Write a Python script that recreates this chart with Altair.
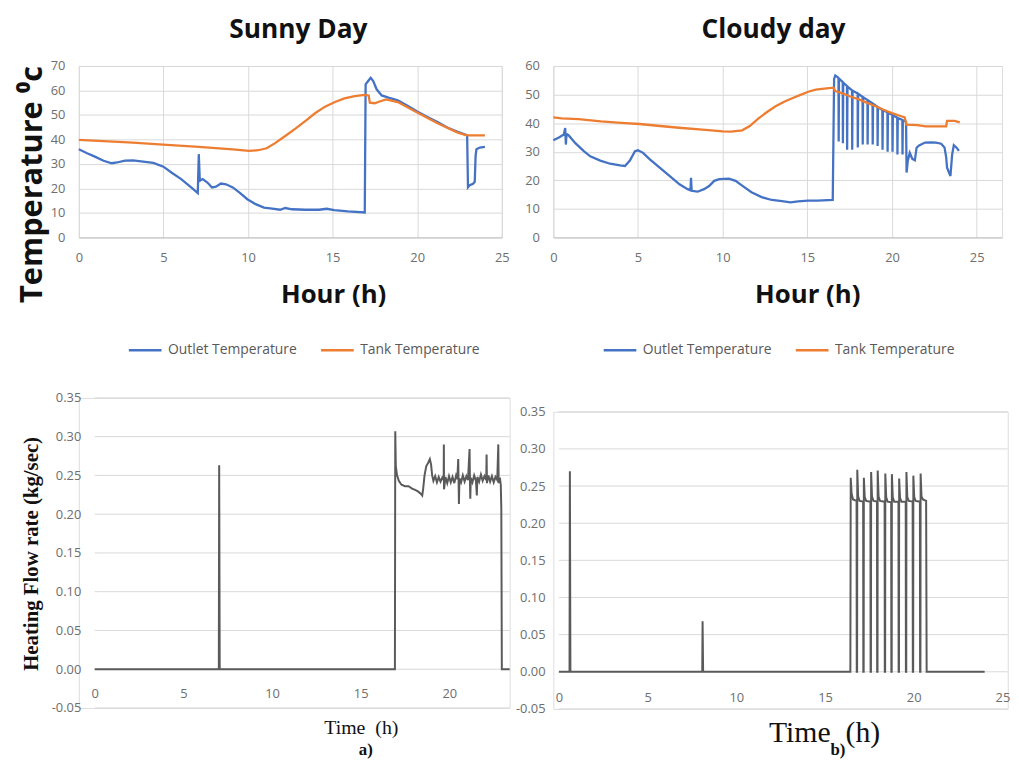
import altair as alt
import pandas as pd

# ---------------- data ----------------
series_names = ["Outlet Temperature", "Tank Temperature"]
series_colors = ["#4472C4", "#ED7D31"]

hour_ticks = [0, 5, 10, 15, 20, 25]
hour_ticks_a = [0, 5, 10, 15, 20]
sunny_temp_ticks = [0, 10, 20, 30, 40, 50, 60, 70]
cloudy_temp_ticks = [0, 10, 20, 30, 40, 50, 60]
flow_ticks = [-0.05, 0.0, 0.05, 0.10, 0.15, 0.20, 0.25, 0.30, 0.35]

# Sunny day - outlet temperature
sunny_outlet_hour = [0.0, 0.49, 0.98, 1.46, 1.95, 2.25, 2.73, 3.2, 3.8, 4.4, 5.0, 5.47, 6.05, 6.64,
                     7.03, 7.09, 7.15, 7.32, 7.6, 7.87, 8.1, 8.4, 8.7, 9.1, 9.5, 9.96, 10.45, 10.94,
                     11.43, 11.9, 12.2, 12.6, 13.4, 14.2, 14.65, 15.1, 15.9, 16.9, 16.95, 17.1, 17.25,
                     17.4, 17.6, 17.9, 18.3, 18.85, 19.4, 20.0, 20.6, 21.2, 21.8, 22.4, 22.95, 23.0,
                     23.1, 23.3, 23.4, 23.45, 23.5, 23.7, 24.0]
sunny_outlet_temp = [36.0, 34.4, 32.9, 31.3, 30.3, 30.6, 31.4, 31.5, 31.0, 30.4, 28.9, 26.5, 23.8, 20.4,
                     18.1, 34.0, 23.1, 23.8, 22.4, 20.4, 20.7, 22.0, 21.7, 20.4, 18.3, 15.6, 13.6, 12.2,
                     11.8, 11.3, 12.0, 11.5, 11.3, 11.3, 11.7, 11.1, 10.6, 10.2, 62.5, 63.9, 65.2,
                     63.9, 60.5, 58.0, 57.1, 56.0, 53.9, 51.4, 49.2, 47.1, 44.8, 43.1, 41.7, 20.5,
                     21.3, 21.9, 22.7, 33.3, 36.0, 36.7, 37.0]

# Sunny day - tank temperature
sunny_tank_hour = [0.0, 3.2, 5.2, 7.1, 9.1, 10.06, 10.6, 11.1, 11.6, 12.2, 12.8, 13.4, 13.96, 14.55,
                   15.14, 15.7, 16.3, 16.9, 17.13, 17.2, 17.48, 17.87, 18.16, 18.85, 20.0, 21.2, 22.4,
                   22.95, 24.0]
sunny_tank_temp = [39.8, 38.7, 37.8, 37.0, 36.0, 35.3, 35.6, 36.4, 38.5, 41.4, 44.4, 47.6, 50.7, 53.4,
                   55.3, 56.8, 57.7, 58.2, 58.0, 55.0, 54.8, 55.7, 56.4, 55.3, 51.0, 46.6, 42.8,
                   41.7, 41.7]

# Cloudy day - outlet temperature
cloudy_outlet_hour = [0.0, 0.33, 0.62, 0.70, 0.74, 0.78, 0.91, 1.3, 1.8, 2.18, 2.77, 3.35, 3.94, 4.23,
                      4.52, 4.82, 5.0, 5.3, 5.7, 6.28, 6.86, 7.45, 7.93, 8.1, 8.13, 8.17, 8.52, 8.9,
                      9.2, 9.5, 9.8, 10.37, 10.76, 11.15, 11.7, 12.3, 12.9, 13.5, 14.0, 14.46, 15.05,
                      15.6, 16.5,
                      16.58, 16.65, 16.75, 16.84, 16.85, 16.87, 17.09, 17.10, 17.12, 17.34, 17.35, 17.37,
                      17.64, 17.65, 17.67, 17.97, 17.98, 18.00, 18.26, 18.27, 18.29, 18.55, 18.56, 18.58,
                      18.85, 18.86, 18.88, 19.14, 19.15, 19.17, 19.43, 19.44, 19.46, 19.73, 19.74, 19.76,
                      20.02, 20.03, 20.05, 20.31, 20.32, 20.34, 20.61, 20.62, 20.64, 20.83,
                      20.86, 20.93, 21.05, 21.2, 21.35, 21.45, 21.6, 21.95, 22.3, 22.6, 22.9, 23.1,
                      23.2, 23.25, 23.45, 23.55, 23.65, 23.8, 23.95]
cloudy_outlet_temp = [34.0, 35.0, 36.0, 38.3, 32.5, 36.2, 35.7, 33.0, 30.2, 28.4, 26.9, 25.8, 25.2, 25.0,
                      26.9, 30.2, 30.5, 29.6, 27.3, 24.4, 21.5, 18.6, 16.9, 16.5, 20.9, 16.3, 16.0, 16.9,
                      18.0, 19.8, 20.4, 20.6, 19.8, 18.1, 15.8, 14.1, 13.1, 12.7, 12.3, 12.6, 12.9,
                      12.9, 13.1,
                      55.5, 56.7, 56.3, 55.8, 33.6, 55.6, 54.4, 33.0, 54.2, 53.0, 30.7, 52.8,
                      51.5, 30.7, 51.4, 50.4, 31.5, 50.3, 49.2, 32.5, 49.1, 48.1, 32.5, 48.0,
                      46.9, 32.5, 46.8, 45.7, 32.0, 45.6, 44.6, 30.7, 44.5, 43.8, 30.0, 43.7,
                      42.9, 30.0, 42.8, 41.9, 29.0, 41.8, 41.1, 29.0, 41.0, 40.5,
                      22.7, 26.8, 29.6, 27.5, 27.0, 31.4, 32.2, 33.2, 33.3, 33.2, 32.8, 31.5,
                      28.0, 24.4, 21.5, 29.0, 32.3, 31.5, 30.3]

# Cloudy day - tank temperature
cloudy_tank_hour = [0.0, 0.5, 1.5, 2.8, 4.0, 5.1, 6.3, 7.6, 8.8, 10.0, 10.5, 11.15, 11.6, 12.1, 12.6,
                    13.1, 13.6, 14.1, 14.6, 15.05, 15.5, 16.0, 16.55, 16.65, 17.0, 17.5, 18.0, 18.5,
                    19.0, 19.5, 20.0, 20.5, 20.75, 20.85, 21.5, 22.0, 23.2, 23.25, 23.7, 24.0]
cloudy_tank_temp = [42.0, 41.7, 41.4, 40.6, 40.1, 39.7, 39.0, 38.3, 37.7, 37.1, 37.0, 37.5, 39.0, 41.6, 43.8,
                    45.8, 47.4, 48.7, 49.9, 51.0, 51.7, 52.1, 52.4, 51.2, 50.6, 49.4, 48.4, 47.2,
                    46.0, 44.7, 43.5, 42.5, 42.0, 39.5, 39.3, 38.9, 38.9, 40.8, 40.8, 40.3]

# Sunny day - heating flow rate
sunny_flow_hour = [0.0, 7.0, 7.02, 7.05, 16.93, 16.95, 16.98, 17.05, 17.15, 17.3, 17.5, 17.7, 17.9, 18.1,
                   18.25, 18.4, 18.47, 18.52, 18.6, 18.7, 18.8, 18.9, 18.97, 19.03, 19.1, 19.2, 19.3,
                   19.4, 19.5, 19.6, 19.68, 19.69, 19.7, 19.78, 19.88, 19.98, 20.08, 20.18, 20.28,
                   20.38, 20.45, 20.5, 20.52, 20.54, 20.57, 20.66, 20.76, 20.86, 20.96, 21.05, 21.14,
                   21.16, 21.18, 21.21, 21.3, 21.4, 21.5, 21.55, 21.58, 21.68, 21.78, 21.88, 21.98,
                   22.08, 22.1, 22.12, 22.2, 22.3, 22.4, 22.5, 22.6, 22.7, 22.76, 22.78, 22.85, 22.9,
                   22.93, 22.96, 23.4]
sunny_flow_rate = [0.0, 0.0, 0.263, 0.0, 0.0, 0.307, 0.262, 0.250, 0.243, 0.238, 0.236, 0.236, 0.233, 0.231,
                   0.229, 0.226, 0.224, 0.232, 0.250, 0.262, 0.266, 0.271, 0.264, 0.250, 0.243, 0.249, 0.241,
                   0.248, 0.242, 0.247, 0.244, 0.290, 0.232, 0.248, 0.240, 0.249, 0.241, 0.248, 0.240,
                   0.250, 0.245, 0.271, 0.243, 0.213, 0.246, 0.241, 0.250, 0.242, 0.249, 0.244, 0.284,
                   0.245, 0.220, 0.247, 0.241, 0.250, 0.243, 0.224, 0.248, 0.242, 0.251, 0.243, 0.249,
                   0.244, 0.277, 0.240, 0.250, 0.242, 0.249, 0.241, 0.248, 0.244, 0.290, 0.240, 0.247, 0.238,
                   0.207, 0.0, 0.0]

# Cloudy day - heating flow rate
cloudy_flow_hour = [0.0, 0.6, 0.62, 0.65, 8.08, 8.1, 8.13, 16.43,
                    16.45, 16.5, 16.58, 16.78, 16.79, 16.81,
                    16.82, 16.87, 16.95, 17.15, 17.16, 17.18,
                    17.19, 17.24, 17.32, 17.56, 17.57, 17.59,
                    17.60, 17.65, 17.73, 17.93, 17.94, 17.96,
                    17.97, 18.02, 18.10, 18.36, 18.37, 18.39,
                    18.40, 18.45, 18.53, 18.73, 18.74, 18.76,
                    18.77, 18.82, 18.90, 19.14, 19.15, 19.17,
                    19.18, 19.23, 19.31, 19.55, 19.56, 19.58,
                    19.59, 19.64, 19.72, 19.94, 19.95, 19.97,
                    19.98, 20.03, 20.11, 20.35, 20.36, 20.38,
                    20.39, 20.44, 20.52, 20.70, 20.73, 24.0]
cloudy_flow_rate = [0.0, 0.0, 0.27, 0.0, 0.0, 0.068, 0.0, 0.0,
                    0.261, 0.240, 0.232, 0.230, 0.0, 0.0,
                    0.272, 0.236, 0.230, 0.229, 0.0, 0.0,
                    0.261, 0.235, 0.230, 0.229, 0.0, 0.0,
                    0.269, 0.236, 0.230, 0.229, 0.0, 0.0,
                    0.271, 0.236, 0.230, 0.229, 0.0, 0.0,
                    0.267, 0.235, 0.229, 0.228, 0.0, 0.0,
                    0.266, 0.235, 0.229, 0.229, 0.0, 0.0,
                    0.260, 0.234, 0.229, 0.229, 0.0, 0.0,
                    0.269, 0.235, 0.230, 0.229, 0.0, 0.0,
                    0.264, 0.235, 0.230, 0.229, 0.0, 0.0,
                    0.267, 0.236, 0.232, 0.230, 0.0, 0.0]


# ---------------- helpers ----------------
def temp_frame(oh, ot, th, tt):
    a = pd.DataFrame({"hour": oh, "temp": ot, "series": series_names[0]})
    b = pd.DataFrame({"hour": th, "temp": tt, "series": series_names[1]})
    a["idx"] = range(len(a))
    b["idx"] = range(len(b))
    return pd.concat([a, b], ignore_index=True)


def flow_frame(h, v):
    d = pd.DataFrame({"hour": h, "flow": v})
    d["idx"] = range(len(d))
    return d


LABELS = dict(labelFont="Open Sans", labelFontSize=13, labelColor="#6e6e6e", ticks=False,
              gridColor="#d9d9d9", gridWidth=1)
FLOW_LABEL_EXPR = "replace(format(datum.value, '.2f'), '\u2212', '-')"
GRID_COLOR = "#d9d9d9"
FLOW_COLOR = "#5a5a5a"
TOP_TITLE = dict(font="Open Sans", fontSize=26.5, fontWeight="bold", color="#111111",
                 anchor="middle", frame="group", offset=-4, baseline="alphabetic")


def legend_spec(lx, ly):
    return alt.Legend(title=None, orient="none", legendX=lx, legendY=ly, direction="horizontal",
                      columns=2, symbolType="stroke", symbolSize=1089, symbolStrokeWidth=2.5,
                      labelFont="Open Sans", labelFontSize=14, labelColor="#595959", labelOffset=5,
                      columnPadding=18, labelLimit=300)


color_scale = alt.Scale(domain=series_names, range=series_colors)

# ---------------- top-left: sunny temperatures ----------------
tl = alt.Chart(temp_frame(sunny_outlet_hour, sunny_outlet_temp, sunny_tank_hour, sunny_tank_temp)).mark_line(
    strokeWidth=2.3).encode(
    x=alt.X("hour:Q", scale=alt.Scale(domain=[0, 25], nice=False),
            axis=alt.Axis(values=hour_ticks, labelFlush=False, labelPadding=14, title="Hour (h)",
                          titleFont="Open Sans", titleFontSize=26, titleFontWeight="bold", titleColor="#111111",
                          titleX=256.7, titleY=66, titleAlign="center", titleBaseline="alphabetic",
                          domainColor="#c6c6c6", **LABELS)),
    y=alt.Y("temp:Q", scale=alt.Scale(domain=[0, 70], nice=False),
            axis=alt.Axis(values=sunny_temp_ticks, labelPadding=14, domain=False, title="Temperature \u2070c",
                          titleFont="Open Sans", titleFontSize=31, titleFontWeight="bold", titleColor="#111111",
                          titleAngle=270, titleBaseline="bottom", titleAlign="center",
                          titleX=-30.8, titleY=119, **LABELS)),
    color=alt.Color("series:N", scale=color_scale, legend=legend_spec(49, 269)),
    order="idx:Q",
).properties(width=427, height=173, title=alt.TitleParams("Sunny Day", dx=8.2, **TOP_TITLE))

# ---------------- top-right: cloudy temperatures ----------------
tr = alt.Chart(temp_frame(cloudy_outlet_hour, cloudy_outlet_temp, cloudy_tank_hour, cloudy_tank_temp)).mark_line(
    strokeWidth=2.3).encode(
    x=alt.X("hour:Q", scale=alt.Scale(domain=[0, 26.5], nice=False),
            axis=alt.Axis(values=hour_ticks, labelFlush=False, labelPadding=14, title="Hour (h)",
                          titleFont="Open Sans", titleFontSize=26, titleFontWeight="bold", titleColor="#111111",
                          titleX=256.3, titleY=66, titleAlign="center", titleBaseline="alphabetic",
                          domainColor="#c6c6c6", **LABELS)),
    y=alt.Y("temp:Q", scale=alt.Scale(domain=[0, 60], nice=False),
            axis=alt.Axis(values=cloudy_temp_ticks, labelPadding=14, domain=False, title=None, **LABELS)),
    color=alt.Color("series:N", scale=color_scale, legend=legend_spec(49.3, 269)),
    order="idx:Q",
).properties(width=453, height=173, title=alt.TitleParams("Cloudy day", dx=-4.2, **TOP_TITLE))

# ---------------- bottom-left: sunny flow ----------------
BL_XMAX = 23.4
bl_x_axis = alt.Axis(values=hour_ticks_a, labelFlush=False, labelPadding=18, offset=-39, domain=False,
                     title="Time\u00a0 (h)", titleFont="Liberation Serif", titleFontSize=20,
                     titleFontWeight="normal", titleColor="#111111", titleX=284.7, titleY=65,
                     titleAlign="center", titleBaseline="alphabetic", **LABELS)
bl_x_scale = alt.Scale(domain=[-0.894, BL_XMAX], nice=False)
bl_y = alt.Y("flow:Q", scale=alt.Scale(domain=[-0.05, 0.35], nice=False),
             axis=alt.Axis(values=flow_ticks, labelExpr=FLOW_LABEL_EXPR, labelPadding=14, domain=False,
                           grid=False, offset=-16,
                           title="Heating Flow rate (kg/sec)", titleFont="Liberation Serif", titleFontSize=21,
                           titleFontWeight="bold", titleColor="#111111", titleAngle=270, titleBaseline="bottom",
                           titleAlign="center", titleX=-54.1, titleY=157, **LABELS))
bl_grid = alt.Chart(pd.DataFrame({"flow": flow_ticks})).mark_rule(color=GRID_COLOR, strokeWidth=1).encode(
    x=alt.X(datum=0, scale=bl_x_scale, axis=bl_x_axis), x2=alt.X2(datum=BL_XMAX), y=bl_y)
bl_line = alt.Chart(flow_frame(sunny_flow_hour, sunny_flow_rate)).mark_line(color=FLOW_COLOR, strokeWidth=2).encode(
    x=alt.X("hour:Q", scale=bl_x_scale, axis=bl_x_axis), y=bl_y, order="idx:Q")
bl = alt.layer(bl_grid, bl_line).properties(
    width=434.9, height=313,
    title=alt.TitleParams("a)", orient="bottom", font="Liberation Serif", fontSize=17, fontWeight="bold",
                          color="#111111", anchor="middle", frame="group", dx=72.2, offset=18,
                          baseline="alphabetic"))

# ---------------- bottom-right: cloudy flow ----------------
BR_XMAX = 25.3
br_x_axis = alt.Axis(values=hour_ticks, labelFlush=False, labelPadding=19.5, offset=-37.5, domain=False,
                     title="Time\u00a0 (h)", titleFont="Liberation Serif", titleFontSize=30,
                     titleFontWeight="normal", titleColor="#111111", titleX=273.3, titleY=70,
                     titleAlign="center", titleBaseline="alphabetic", **LABELS)
br_x_scale = alt.Scale(domain=[-0.3127, BR_XMAX], nice=False)
br_y = alt.Y("flow:Q", scale=alt.Scale(domain=[-0.05, 0.35], nice=False),
             axis=alt.Axis(values=flow_ticks, labelExpr=FLOW_LABEL_EXPR, labelPadding=14, domain=False,
                           grid=False, offset=-5.6, title=None, **LABELS))
br_grid = alt.Chart(pd.DataFrame({"flow": flow_ticks})).mark_rule(color=GRID_COLOR, strokeWidth=1).encode(
    x=alt.X(datum=0, scale=br_x_scale, axis=br_x_axis), x2=alt.X2(datum=BR_XMAX), y=br_y)
br_line = alt.Chart(flow_frame(cloudy_flow_hour, cloudy_flow_rate)).mark_line(color=FLOW_COLOR, strokeWidth=2).encode(
    x=alt.X("hour:Q", scale=br_x_scale, axis=br_x_axis), y=br_y, order="idx:Q")
br = alt.layer(br_grid, br_line).properties(
    width=458.7, height=300,
    title=alt.TitleParams("b)", orient="bottom", font="Liberation Serif", fontSize=17, fontWeight="bold",
                          color="#111111", anchor="middle", frame="group", dx=58, offset=8.5,
                          baseline="alphabetic"))

# ---------------- layout ----------------
RES = dict(x="independent", y="independent", color="independent")
col1 = alt.vconcat(tl, bl, spacing=33).resolve_scale(**RES)
col2 = alt.vconcat(tr, br, spacing=47).resolve_scale(**RES)

chart = alt.hconcat(col1, col2, spacing=0).resolve_scale(**RES).properties(
    padding={"left": 7.5, "top": 5, "right": 0, "bottom": 0}
).configure_view(stroke=None).configure(background="white")

chart.save("out.html", embed_options={"renderer": "svg", "actions": False})
